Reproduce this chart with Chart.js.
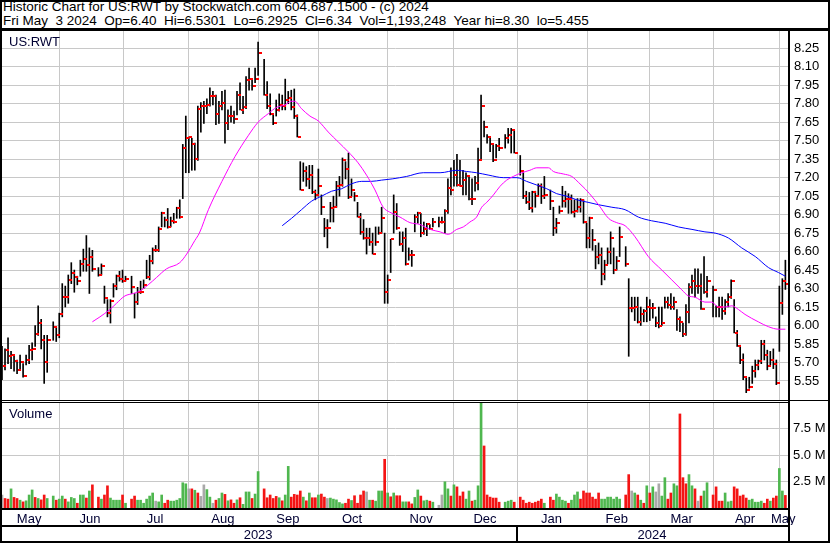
<!DOCTYPE html>
<html>
<head>
<meta charset="utf-8">
<script src="https://cdn.jsdelivr.net/npm/chart.js@4.4.1/dist/chart.umd.min.js"></script>
<style>
body { margin: 0; background: #fff; }
#wrap { position: relative; width: 830px; height: 543px; overflow: hidden; font-family: "Liberation Sans", Arial, sans-serif; font-size: 13px; }
#head { position: absolute; left: 3px; top: 0; line-height: 14px; font-size: 13.5px; white-space: pre; color: #000; }
.lab { position: absolute; color: #000033; line-height: 15px; }
.ln { position: absolute; background: #000; }
canvas { position: absolute; left: 0; }
</style>
</head>
<body>
<div id="wrap">
<div id="head">Historic Chart for US:RWT by Stockwatch.com 604.687.1500 - (c) 2024
Fri May  3 2024  Op=6.40  Hi=6.5301  Lo=6.2925  Cl=6.34  Vol=1,193,248  Year hi=8.30  lo=5.455</div>
<canvas id="priceChart" width="830" height="369" style="top:31px"></canvas>
<canvas id="volChart" width="830" height="141" style="top:402px"></canvas>
<div class="lab" style="left:9px;top:34px">US:RWT</div>
<div class="lab" style="left:9px;top:406px">Volume</div>
<!-- frame lines -->
<div class="ln" style="left:0;top:0;width:830px;height:2px"></div>
<div class="ln" style="left:0;top:28px;width:830px;height:3px"></div>
<div class="ln" style="left:0;top:0;width:2px;height:543px"></div>
<div class="ln" style="left:788px;top:30px;width:2px;height:513px"></div>
<div class="ln" style="left:828px;top:0;width:2px;height:543px"></div>
<div class="ln" style="left:0;top:400px;width:830px;height:1px"></div>
<div class="ln" style="left:0;top:402px;width:790px;height:1px"></div>
<div class="ln" style="left:0;top:508px;width:790px;height:2px"></div>
<div class="ln" style="left:0;top:525px;width:790px;height:2px"></div>
<div class="ln" style="left:0;top:541px;width:830px;height:2px"></div>
<div class="ln" style="left:516px;top:525px;width:2px;height:17px"></div>
</div>
<script>
// one slot per weekday, May 5 2023 .. May 3 2024, null = market holiday
const high = [
  5.83, 5.81, 5.90, 5.79, 5.76, 5.72, 5.76, 5.69, 5.76, 5.84,
  5.86, 6.00, 6.16, 6.05, 5.92, 5.92, null, 6.03, 5.99, 6.10,
  6.34, 6.32, 6.41, 6.51, 6.45, 6.40, 6.53, 6.62, 6.73, 6.63,
  6.61, null, 6.47, 6.50, 6.32, 6.21, 6.21, 6.34, 6.41, 6.44,
  6.45, 6.40, null, 6.40, 6.26, 6.31, 6.36, 6.37, 6.53, 6.57,
  6.63, 6.65, 6.80, 6.92, 6.88, 6.95, 6.88, 6.91, 6.96, 7.02,
  7.47, 7.70, 7.53, 7.52, 7.48, 7.78, 7.81, 7.82, 7.84, 7.93,
  7.90, 7.87, 7.82, 7.90, 7.91, 7.75, 7.78, 7.74, 7.90, 7.97,
  7.86, 8.02, 8.09, 7.99, 8.09, 8.30, null, 8.16, 7.98, 7.88,
  7.72, 7.83, 7.88, 7.87, 8.00, 7.90, 7.91, 7.92, 7.71, 7.33,
  7.32, 7.29, 7.30, 7.30, 7.10, 7.27, 7.06, 6.87, 6.86, 7.00,
  7.05, 7.17, 7.21, 7.36, 7.33, 7.40, 7.19, 7.08, 7.00, 6.91,
  6.86, 6.79, 6.79, 6.75, 6.80, 6.80, 6.96, 6.75, 6.41, 6.70,
  7.06, 6.99, 6.76, 6.76, 6.79, 6.63, 6.61, 6.90, 6.92, 6.91,
  6.84, 6.83, 6.82, 6.87, null, 6.88, 6.88, 6.94, 7.19, 7.28,
  7.34, 7.39, 7.34, 7.26, 7.24, 7.21, 7.19, 7.21, 7.44, 7.87,
  7.66, 7.55, 7.53, 7.47, 7.47, 7.52, null, 7.55, 7.60, 7.60,
  7.59, null, 7.38, 7.24, 7.09, 7.08, 7.09, 7.09, 7.15, 7.15,
  7.21, null, 7.10, 6.96, 6.87, 6.97, 7.13, 7.09, 7.07, 7.06,
  7.02, 7.03, 7.03, 7.02, 6.83, 6.88, 6.78, 6.65, 6.67, 6.63,
  6.53, 6.63, 6.76, 6.63, 6.56, 6.80, null, 6.64, 6.38, 6.23,
  6.23, 6.23, 6.15, 6.13, 6.23, 6.21, 6.18, 6.07, 6.15, 6.15,
  6.23, 6.23, 6.26, 6.23, 6.13, 6.07, 6.02, 6.17, 6.34, 6.41,
  6.46, 6.46, 6.42, 6.56, 6.40, null, 6.32, 6.16, 6.23, 6.23,
  6.21, 6.26, 6.37, 6.21, 5.96, 5.84, 5.77, 5.58, 5.58, 5.67,
  5.72, 5.72, 5.88, 5.88, 5.80, 5.79, 5.81, 5.72, 6.32, 6.38,
  6.5301
];
const low = [
  5.56, 5.64, 5.69, 5.65, 5.63, 5.61, 5.64, 5.58, 5.68, 5.69,
  5.72, 5.83, 5.92, 5.81, 5.53, 5.62, null, 5.88, 5.87, 5.90,
  6.07, 6.15, 6.18, 6.34, 6.27, 6.33, 6.40, 6.44, 6.44, 6.26,
  6.44, null, 6.40, 6.41, 6.18, 6.07, 6.02, 6.23, 6.29, 6.36,
  6.35, 6.36, null, 6.26, 6.06, 6.17, 6.26, 6.30, 6.38, 6.37,
  6.50, 6.60, 6.60, 6.80, 6.80, 6.79, 6.80, 6.83, 6.87, 6.87,
  7.03, 7.24, 7.24, 7.26, 7.26, 7.34, 7.57, 7.64, 7.72, 7.78,
  7.79, 7.63, 7.64, 7.75, 7.48, 7.59, 7.65, 7.64, 7.71, 7.75,
  7.72, 7.76, 7.91, 7.91, 7.97, 8.03, null, 7.87, 7.76, 7.71,
  7.63, 7.70, 7.74, 7.75, 7.75, 7.80, 7.75, 7.68, 7.53, 7.10,
  7.17, 7.13, 7.11, 7.07, 7.02, 7.05, 6.90, 6.72, 6.63, 6.84,
  6.84, 6.96, 7.05, 7.13, 7.19, 7.03, 7.05, 7.01, 6.88, 6.74,
  6.70, 6.58, 6.65, 6.58, 6.65, 6.74, 6.75, 6.18, 6.18, 6.43,
  6.75, 6.78, 6.65, 6.60, 6.49, 6.53, 6.48, 6.76, 6.83, 6.72,
  6.74, 6.73, 6.78, 6.80, null, 6.80, 6.83, 6.75, 6.91, 7.06,
  7.13, 7.13, 7.13, 7.06, 7.06, 7.02, 6.98, 7.09, 7.10, 7.34,
  7.53, 7.48, 7.41, 7.33, 7.36, 7.42, null, 7.44, 7.48, 7.40,
  7.40, null, 7.22, 7.03, 6.99, 6.94, 6.92, 6.96, 7.05, 6.99,
  7.03, null, 6.94, 6.73, 6.75, 6.91, 6.96, 6.96, 6.91, 6.91,
  6.88, 6.92, 6.92, 6.83, 6.63, 6.63, 6.61, 6.46, 6.50, 6.33,
  6.37, 6.50, 6.50, 6.42, 6.45, 6.56, null, 6.48, 5.75, 6.11,
  6.04, 6.02, 6.00, 6.03, 6.03, 6.04, 6.06, 5.99, 5.98, 6.00,
  6.14, 6.14, 6.13, 6.13, 5.96, 5.95, 5.91, 5.92, 6.02, 6.26,
  6.23, 6.26, 6.13, 6.26, 6.23, null, 6.07, 6.07, 6.07, 6.05,
  6.09, 6.15, 6.22, 5.94, 5.83, 5.69, 5.56, 5.455, 5.49, 5.53,
  5.58, 5.64, 5.69, 5.72, 5.64, 5.68, 5.65, 5.52, 5.79, 6.09,
  6.2925
];
const close = [
  5.67, 5.80, 5.75, 5.76, 5.71, 5.64, 5.70, 5.59, 5.72, 5.80,
  5.81, 5.93, 6.02, 5.88, 5.70, 5.88, null, 5.99, 5.92, 6.09,
  6.23, 6.23, 6.37, 6.43, 6.39, 6.36, 6.50, 6.54, 6.49, 6.56,
  6.46, null, 6.41, 6.48, 6.22, 6.10, 6.20, 6.32, 6.40, 6.38,
  6.36, 6.38, null, 6.31, 6.19, 6.27, 6.27, 6.33, 6.39, 6.52,
  6.61, 6.61, 6.78, 6.91, 6.86, 6.80, 6.85, 6.84, 6.95, 6.88,
  7.44, 7.52, 7.53, 7.47, 7.35, 7.76, 7.78, 7.78, 7.79, 7.86,
  7.86, 7.72, 7.78, 7.81, 7.64, 7.70, 7.70, 7.68, 7.87, 7.75,
  7.77, 7.99, 8.00, 7.94, 8.00, 8.21, null, 7.87, 7.78, 7.72,
  7.64, 7.75, 7.79, 7.78, 7.83, 7.85, 7.77, 7.70, 7.53, 7.10,
  7.25, 7.19, 7.22, 7.08, 7.06, 7.13, 6.96, 6.79, 6.79, 6.95,
  6.96, 7.13, 7.14, 7.34, 7.27, 7.04, 7.10, 7.05, 6.88, 6.76,
  6.71, 6.71, 6.68, 6.58, 6.68, 6.75, 6.87, 6.27, 6.37, 6.70,
  6.92, 6.79, 6.66, 6.71, 6.50, 6.57, 6.57, 6.88, 6.91, 6.75,
  6.78, 6.82, 6.78, 6.84, null, 6.84, 6.84, 6.93, 7.12, 7.10,
  7.22, 7.14, 7.13, 7.18, 7.21, 7.03, 7.03, 7.16, 7.34, 7.78,
  7.61, 7.53, 7.47, 7.34, 7.46, 7.44, null, 7.52, 7.55, 7.59,
  7.40, null, 7.25, 7.05, 7.00, 6.95, 7.08, 7.05, 7.13, 7.05,
  7.06, null, 7.01, 6.79, 6.83, 6.93, 7.01, 7.03, 7.03, 6.92,
  6.93, 6.96, 7.02, 6.84, 6.71, 6.87, 6.69, 6.56, 6.57, 6.42,
  6.49, 6.60, 6.71, 6.45, 6.52, 6.72, null, 6.50, 6.14, 6.14,
  6.15, 6.03, 6.09, 6.12, 6.15, 6.14, 6.14, 6.02, 6.00, 6.02,
  6.19, 6.17, 6.15, 6.19, 6.05, 6.03, 5.93, 6.11, 6.31, 6.36,
  6.32, 6.32, 6.13, 6.27, 6.36, null, 6.29, 6.15, 6.15, 6.12,
  6.19, 6.23, 6.36, 5.94, 5.83, 5.72, 5.58, 5.48, 5.50, 5.63,
  5.68, 5.71, 5.85, 5.76, 5.67, 5.72, 5.69, 5.53, 6.18, 6.36,
  6.34
];
// volume in millions of shares
const volume = [
  1.23, 0.90, 0.84, 1.81, 1.00, 0.90, 0.74, 0.58, 0.68, 1.23,
  1.71, 1.00, 0.90, 0.77, 1.23, 0.90, null, 1.13, 0.74, 0.84,
  1.13, 0.84, 0.58, 1.00, 0.90, 0.45, 1.23, 1.23, 0.94, 1.61,
  2.19, null, 1.03, 0.84, 1.23, 2.10, 0.94, 0.74, 0.74, 0.74,
  1.23, 0.45, null, 0.84, 1.13, 0.74, 0.74, 0.45, 0.84, 1.13,
  1.42, 0.65, 0.58, 1.23, 0.45, 0.74, 0.65, 0.65, 0.74, 0.90,
  2.39, 2.29, 1.81, 1.81, 1.68, 1.42, 1.10, 2.19, 1.74, 1.03,
  0.45, 0.74, 0.90, 1.42, 1.29, 0.68, 0.77, 0.45, 0.77, 0.97,
  0.35, 1.52, 1.52, 0.90, 1.32, 3.45, null, 1.81, 0.97, 1.23,
  0.90, 1.10, 0.97, 0.68, 1.23, 3.94, 1.03, 1.29, 1.23, 1.61,
  1.03, 0.68, 1.42, 0.97, 0.97, 1.23, 1.32, 1.03, 0.90, 0.94,
  0.84, 0.77, 0.52, 0.39, 0.45, 0.84, 0.71, 1.16, 0.45, 1.23,
  1.61, 1.52, 0.74, 0.74, 0.65, 1.61, 1.61, 4.61, 1.42, 1.06,
  1.42, 1.16, 1.16, 0.58, 0.58, 0.58, 0.39, 1.00, 1.71, 1.13,
  0.68, 0.74, 0.65, 0.55, null, 0.26, 1.23, 2.48, 1.81, 1.13,
  2.19, 2.00, 1.13, 1.52, 0.84, 1.61, 0.65, 0.74, 2.10, 10.5,
  5.87, 1.23, 1.03, 0.94, 0.94, 0.55, null, 0.55, 0.65, 0.74,
  0.55, null, 1.03, 0.74, 0.45, 0.55, 0.45, 0.55, 0.65, 0.84,
  0.45, null, 1.03, 0.74, 1.32, 1.03, 0.74, 0.65, 0.45, 0.74,
  1.23, 1.52, 0.84, 1.61, 1.42, 1.42, 1.03, 0.84, 1.42, 0.84,
  0.84, 1.03, 1.03, 0.84, 1.03, 0.84, null, 1.23, 3.16, 1.61,
  1.42, 1.23, 0.74, 0.45, 2.10, 1.42, 2.00, 1.52, 2.29, 1.13,
  2.87, 0.84, 1.42, 2.29, 2.10, 8.90, 2.87, 2.29, 3.16, 2.10,
  1.81, 0.65, 1.13, 1.61, 2.39, null, 1.23, 2.00, 0.65, 0.65,
  1.42, 0.58, 0.65, 2.00, 1.81, 1.13, 1.23, 0.94, 0.74, 0.84,
  0.55, 0.55, 0.65, 0.45, 0.84, 0.65, 0.94, 1.13, 3.74, 1.61,
  1.19
];
// u = up day, d = down day, n = unchanged, . = holiday
const volDir = [
  'nddudduduu', 'ududdu.udu', 'uduuuduudu', 'd.dudduuuu', 'du.dduuuuu',
  'unuudduuuu', 'uundudnnuu', 'nduududdud', 'uuuduu.ddd', 'dduduudddd',
  'ududduddnu', 'uuuudduddd', 'dnuduuudud', 'udduudduud', 'uudu.nnuud',
  'uddduuduuu', 'dddddd.uuu', 'd.dddddddd', 'u.dduuuudu', 'uudddddddu',
  'uuuuuu.ddn', 'udududunnu', 'udduuddduu', 'dnduu.dddd', 'uuuddddduu',
  'uuuddudduu', 'd'
].join('');

// moving averages: [slot, price]
const maShort = [
  [30, 6.03], [32.5, 6.07], [35.8, 6.13], [38, 6.18], [40.8, 6.24], [43.6, 6.26], [45.8, 6.28],
  [48.5, 6.33], [51.3, 6.39], [54.6, 6.46], [59, 6.51], [61.3, 6.58], [64, 6.69], [65.5, 6.75],
  [68.5, 6.94], [73, 7.17], [77.3, 7.37], [81.7, 7.54], [85, 7.65], [88.4, 7.72], [91.1, 7.77],
  [93.9, 7.79], [96, 7.82], [97.2, 7.82], [99.4, 7.76], [102.2, 7.70], [105, 7.66], [108.3, 7.57],
  [111.6, 7.49], [114.9, 7.41], [118.2, 7.32], [121, 7.22], [123.8, 7.10], [126.5, 6.96], [128.7, 6.92],
  [132.1, 6.88], [135.4, 6.835], [138.7, 6.82], [142.1, 6.78], [145.4, 6.76], [148.1, 6.74], [150.9, 6.78],
  [153.1, 6.80], [155.3, 6.84], [157.5, 6.88], [159.2, 6.96], [160.9, 7.00], [163.1, 7.06], [165.3, 7.13],
  [167.5, 7.18], [169.7, 7.21], [172.5, 7.24], [175.2, 7.26], [177.5, 7.28], [181.4, 7.28], [183, 7.25],
  [186.3, 7.23], [189.1, 7.21], [191.4, 7.16], [193.5, 7.11], [195, 7.07], [198, 6.98], [201.3, 6.87],
  [204, 6.835], [206.8, 6.81], [210.1, 6.72], [214.5, 6.56], [219, 6.45], [222.3, 6.37], [225.6, 6.29],
  [227.8, 6.24], [230, 6.23], [233.3, 6.19], [235.5, 6.19], [237.8, 6.15], [240, 6.15], [242.2, 6.16],
  [244.4, 6.13], [246.6, 6.09], [251, 6.03], [254.4, 5.99], [257.7, 5.97], [260, 5.97]
];
const maLong = [
  [93, 6.81], [96.1, 6.87], [99.4, 6.94], [102.8, 7.01], [106.1, 7.05], [109.4, 7.09], [112.7, 7.11],
  [116, 7.15], [119.4, 7.17], [122.6, 7.17], [126, 7.18], [129.5, 7.19], [134.3, 7.21], [139.8, 7.24],
  [145.4, 7.24], [151, 7.26], [154.2, 7.25], [157.5, 7.24], [161.6, 7.22], [166.4, 7.20], [170.9, 7.20],
  [174.1, 7.17], [177.5, 7.14], [180.8, 7.11], [184.1, 7.07], [187.4, 7.05], [190.8, 7.02], [194.5, 7.00],
  [198, 6.98], [202.4, 6.96], [206.8, 6.94], [211.2, 6.88], [215.6, 6.85], [220.1, 6.83], [224.5, 6.80],
  [229, 6.78], [233.3, 6.76], [236.7, 6.75], [241.1, 6.71], [245.5, 6.63], [250, 6.56], [254.4, 6.47],
  [257.7, 6.43], [260, 6.40]
];

const priceTicks = [5.55, 5.70, 5.85, 6.00, 6.15, 6.30, 6.45, 6.60, 6.75, 6.90, 7.05, 7.20, 7.35, 7.50, 7.65, 7.80, 7.95, 8.10, 8.25];
const volTicks = [2.5, 5.0, 7.5];
const monthStart = [19, 40.3, 62, 85, 105, 128, 150, 171, 194.3, 215, 236, 258];
const monthLabels = ['May', 'Jun', 'Jul', 'Aug', 'Sep', 'Oct', 'Nov', 'Dec', 'Jan', 'Feb', 'Mar', 'Apr', 'May'];
const monthMid = [9, 29.2, 50.8, 73.3, 94.9, 116.2, 139.1, 160.3, 182.4, 204, 225.6, 246.6, 259.3];
const yearLabels = ['2023', '2024'];
const yearMid = [85, 215.7];

Chart.defaults.font.family = '"Liberation Sans", Arial, sans-serif';
Chart.defaults.font.size = 13;

const X_MIN = 0, X_MAX = 261.2;
const GRID = '#c8c8c8';
const dirColor = { u: '#4fb74f', d: '#f41414', n: '#a9a9a9' };

// red close mark sitting on the right of each high-low line
const closeMark = document.createElement('canvas');
closeMark.width = 7;
closeMark.height = 2;
const cm = closeMark.getContext('2d');
cm.fillStyle = '#ff0000';
cm.fillRect(4, 0, 3, 2);

const bars = [], closes = [], vols = [], volColors = [];
high.forEach((h, i) => {
     if (h === null) return;
     bars.push({ x: i, y: [low[i], h] });
     closes.push({ x: i, y: close[i] });
     vols.push({ x: i, y: volume[i] });
     volColors.push(dirColor[volDir[i]]);
});

const crisp = {
     id: 'crisp',
     beforeDatasetsDraw(chart) { chart.ctx.imageSmoothingEnabled = false; }
};

// keep the plot area fixed: no automatic room for edge labels
function noPad(s) {
     s.paddingTop = 0; s.paddingBottom = 0; s.paddingLeft = 0; s.paddingRight = 0;
}

function monthGridAxis() {
     return {
          type: 'linear', min: X_MIN, max: X_MAX, offset: false, weight: 0,
          afterBuildTicks: s => { s.ticks = monthStart.map(v => ({ value: v })); },
          grid: { color: GRID, lineWidth: 1, drawTicks: false, offset: false },
          border: { display: false },
          ticks: { display: false },
          afterFit: s => { s.height = 0; noPad(s); }
     };
}

function labelAxis(values, labels, weight, height, padding, color) {
     return {
          type: 'linear', position: 'bottom', min: X_MIN, max: X_MAX, offset: false, weight: weight,
          afterBuildTicks: s => { s.ticks = values.map(v => ({ value: v })); },
          grid: { display: false, drawTicks: false },
          border: { display: false },
          ticks: { autoSkip: false, maxRotation: 0, minRotation: 0, padding: padding, color: color,
                   callback: (v, i) => labels[i] },
          afterFit: s => { s.height = height; noPad(s); }
     };
}

new Chart(document.getElementById('priceChart'), {
     type: 'line',
     data: {
          datasets: [
               { type: 'bar', data: bars, backgroundColor: '#000', barThickness: 1, grouped: false, order: 4 },
               { type: 'line', data: closes, showLine: false, pointStyle: closeMark, pointRadius: 2, order: 3 },
               { type: 'line', data: maLong.map(p => ({ x: p[0], y: p[1] })), borderColor: '#0000ff', borderWidth: 1,
                 pointRadius: 0, cubicInterpolationMode: 'monotone', order: 2 },
               { type: 'line', data: maShort.map(p => ({ x: p[0], y: p[1] })), borderColor: '#ff00ff', borderWidth: 1,
                 pointRadius: 0, cubicInterpolationMode: 'monotone', order: 1 }
          ]
     },
     options: {
          responsive: false, animation: false, events: [],
          layout: { autoPadding: false, padding: { left: 2, right: 0, top: 0, bottom: 0 } },
          plugins: { legend: { display: false }, tooltip: { enabled: false } },
          scales: {
               x: monthGridAxis(),
               y: {
                    type: 'linear', position: 'right', min: 5.3953, max: 8.3904,
                    afterBuildTicks: s => { s.ticks = priceTicks.map(v => ({ value: v })); },
                    grid: { color: GRID, lineWidth: 1, drawTicks: false },
                    border: { display: false },
                    ticks: { padding: 5, color: '#000', callback: v => v.toFixed(2) },
                    afterFit: s => { s.width = 41; noPad(s); }
               }
          }
     },
     plugins: [crisp]
});

new Chart(document.getElementById('volChart'), {
     type: 'line',
     data: {
          datasets: [
               { type: 'bar', data: vols, backgroundColor: volColors, barThickness: 2, grouped: false }
          ]
     },
     options: {
          responsive: false, animation: false, events: [],
          layout: { autoPadding: false, padding: { left: 2, right: 0, top: 0, bottom: 0 } },
          plugins: { legend: { display: false }, tooltip: { enabled: false } },
          scales: {
               x: monthGridAxis(),
               xm: labelAxis(monthMid, monthLabels, 1, 17, 4, '#000033'),
               xy: labelAxis(yearMid, yearLabels, 2, 18, 3, '#000033'),
               y: {
                    type: 'linear', position: 'right', min: 0, max: 10.03,
                    afterBuildTicks: s => { s.ticks = volTicks.map(v => ({ value: v })); },
                    grid: { color: GRID, lineWidth: 1, drawTicks: false },
                    border: { display: false },
                    ticks: { padding: 4, color: '#000', callback: v => v.toFixed(1) + ' M' },
                    afterFit: s => { s.width = 41; noPad(s); }
               }
          }
     }
});
</script>
</body>
</html>
